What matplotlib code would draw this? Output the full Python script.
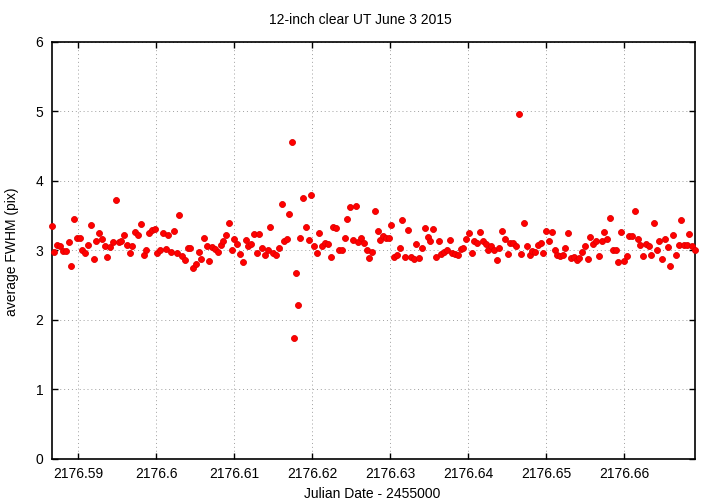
import matplotlib
matplotlib.use("Agg")
from matplotlib import pyplot as plt

plt.rcParams['font.family'] = ['Liberation Sans', 'DejaVu Sans']
plt.rcParams['font.size'] = 10

title = "12-inch clear UT June 3 2015"
x_label = "Julian Date - 2455000"
y_label = "average FWHM (pix)"

# julian date - 2455000
jd = [2176.58658, 2176.58692, 2176.58731, 2176.58769, 2176.58799, 2176.58842,
      2176.58876, 2176.58906, 2176.58944, 2176.58979, 2176.59017, 2176.59051,
      2176.59090, 2176.59124, 2176.59158, 2176.59197, 2176.59231, 2176.59265,
      2176.59303, 2176.59338, 2176.59372, 2176.59410, 2176.59444, 2176.59483,
      2176.59517, 2176.59551, 2176.59585, 2176.59624, 2176.59658, 2176.59692,
      2176.59731, 2176.59765, 2176.59799, 2176.59838, 2176.59872, 2176.59906,
      2176.59944, 2176.59979, 2176.60013, 2176.60047, 2176.60082, 2176.60120,
      2176.60154, 2176.60188, 2176.60223, 2176.60261, 2176.60295, 2176.60334,
      2176.60368, 2176.60402, 2176.60436, 2176.60474, 2176.60509, 2176.60543,
      2176.60577, 2176.60611, 2176.60645, 2176.60679, 2176.60718, 2176.60752,
      2176.60786, 2176.60825, 2176.60859, 2176.60893, 2176.60932, 2176.60966,
      2176.61000, 2176.61034, 2176.61073, 2176.61111, 2176.61145, 2176.61179,
      2176.61214, 2176.61252, 2176.61286, 2176.61321, 2176.61359, 2176.61393,
      2176.61427, 2176.61457, 2176.61500, 2176.61539, 2176.61573, 2176.61607,
      2176.61637, 2176.61671, 2176.61705, 2176.61744, 2176.61765, 2176.61791,
      2176.61821, 2176.61846, 2176.61880, 2176.61915, 2176.61953, 2176.61987,
      2176.62021, 2176.62056, 2176.62090, 2176.62128, 2176.62162, 2176.62197,
      2176.62235, 2176.62269, 2176.62308, 2176.62342, 2176.62376, 2176.62415,
      2176.62449, 2176.62483, 2176.62521, 2176.62556, 2176.62590, 2176.62628,
      2176.62662, 2176.62697, 2176.62731, 2176.62769, 2176.62803, 2176.62838,
      2176.62868, 2176.62906, 2176.62940, 2176.62979, 2176.63013, 2176.63047,
      2176.63085, 2176.63120, 2176.63154, 2176.63192, 2176.63231, 2176.63265,
      2176.63299, 2176.63333, 2176.63372, 2176.63406, 2176.63440, 2176.63479,
      2176.63513, 2176.63547, 2176.63585, 2176.63620, 2176.63654, 2176.63688,
      2176.63726, 2176.63761, 2176.63795, 2176.63833, 2176.63868, 2176.63902,
      2176.63936, 2176.63974, 2176.64009, 2176.64043, 2176.64077, 2176.64115,
      2176.64150, 2176.64188, 2176.64222, 2176.64256, 2176.64291, 2176.64325,
      2176.64363, 2176.64398, 2176.64432, 2176.64470, 2176.64505, 2176.64539,
      2176.64577, 2176.64612, 2176.64650, 2176.64680, 2176.64718, 2176.64752,
      2176.64787, 2176.64821, 2176.64859, 2176.64893, 2176.64928, 2176.64962,
      2176.65000, 2176.65034, 2176.65073, 2176.65107, 2176.65141, 2176.65175,
      2176.65209, 2176.65244, 2176.65282, 2176.65316, 2176.65355, 2176.65389,
      2176.65423, 2176.65457, 2176.65496, 2176.65530, 2176.65564, 2176.65603,
      2176.65637, 2176.65675, 2176.65710, 2176.65744, 2176.65778, 2176.65816,
      2176.65851, 2176.65889, 2176.65923, 2176.65957, 2176.65996, 2176.66030,
      2176.66064, 2176.66098, 2176.66137, 2176.66171, 2176.66205, 2176.66244,
      2176.66274, 2176.66312, 2176.66346, 2176.66380, 2176.66415, 2176.66449,
      2176.66483, 2176.66517, 2176.66556, 2176.66590, 2176.66624, 2176.66662,
      2176.66697, 2176.66726, 2176.66765, 2176.66799, 2176.66829, 2176.66868,
      2176.66902]

fwhm = [3.35, 2.97, 3.07, 3.06, 2.99, 2.99, 3.12, 2.78, 3.45, 3.18,
        3.18, 3.01, 2.96, 3.08, 3.36, 2.88, 3.14, 3.25, 3.17, 3.06,
        2.90, 3.05, 3.12, 3.73, 3.12, 3.13, 3.22, 3.08, 2.96, 3.06,
        3.26, 3.22, 3.38, 2.93, 3.01, 3.25, 3.29, 3.31, 2.96, 3.00,
        3.25, 3.02, 3.22, 2.97, 3.28, 2.96, 3.51, 2.92, 2.86, 3.03,
        3.03, 2.75, 2.81, 2.98, 2.88, 3.18, 3.06, 2.85, 3.05, 3.02,
        2.97, 3.08, 3.13, 3.22, 3.39, 3.00, 3.16, 3.09, 2.95, 2.83,
        3.15, 3.06, 3.09, 3.24, 2.96, 3.24, 3.04, 2.94, 3.01, 3.33,
        2.96, 2.93, 3.04, 3.66, 3.14, 3.16, 3.52, 4.56, 1.74, 2.67,
        2.21, 3.18, 3.75, 3.34, 3.15, 3.80, 3.06, 2.96, 3.25, 3.06,
        3.11, 3.09, 2.90, 3.34, 3.32, 3.00, 3.00, 3.18, 3.45, 3.62,
        3.15, 3.64, 3.12, 3.18, 3.11, 3.01, 2.89, 2.98, 3.57, 3.28,
        3.15, 3.20, 3.18, 3.18, 3.36, 2.90, 2.94, 3.03, 3.43, 2.90,
        3.30, 2.90, 2.88, 3.09, 2.89, 3.03, 3.32, 3.19, 3.14, 3.31,
        2.90, 3.14, 2.95, 2.97, 3.00, 3.15, 2.96, 2.95, 2.93, 3.02,
        3.04, 3.16, 3.25, 2.96, 3.13, 3.11, 3.27, 3.14, 3.09, 3.00,
        3.06, 3.01, 2.86, 3.04, 3.28, 3.16, 2.95, 3.11, 3.10, 3.06,
        4.96, 2.95, 3.40, 3.06, 2.93, 2.99, 2.98, 3.07, 3.11, 2.96,
        3.28, 3.14, 3.27, 3.01, 2.93, 2.92, 2.93, 3.04, 3.25, 2.89,
        2.91, 2.86, 2.89, 2.97, 3.06, 2.88, 3.19, 3.09, 3.13, 2.92,
        3.14, 3.26, 3.17, 3.46, 3.00, 3.01, 2.83, 3.26, 2.84, 2.92,
        3.20, 3.20, 3.56, 3.17, 3.07, 2.92, 3.09, 3.06, 2.93, 3.39,
        3.01, 3.13, 2.87, 3.16, 3.05, 2.77, 3.22, 2.93, 3.07, 3.44,
        3.07, 3.08, 3.24, 3.06, 3.01]

x_ticks = [2176.59, 2176.60, 2176.61, 2176.62, 2176.63, 2176.64, 2176.65, 2176.66]
x_tick_labels = ["2176.59", "2176.6", "2176.61", "2176.62", "2176.63",
                 "2176.64", "2176.65", "2176.66"]
y_ticks = [0, 1, 2, 3, 4, 5, 6]

fig = plt.figure(figsize=(7.2, 5.04), dpi=100)
ax = fig.add_axes([0.0718, 0.0899, 0.8931, 0.8268])

ax.plot(jd, fwhm, linestyle='none', marker='o', markersize=4.3,
        markerfacecolor='#ff0000', markeredgecolor='#e00000',
        markeredgewidth=0.6, zorder=5, clip_on=False)

ax.set_xlim(min(jd), max(jd))
ax.set_ylim(0, 6)
ax.set_xticks(x_ticks)
ax.set_xticklabels(x_tick_labels)
ax.set_yticks(y_ticks)

ax.grid(True, color='#a0a0a0', linestyle=(0, (1, 3)), linewidth=0.7)
ax.tick_params(direction='in', length=4.5, width=1, top=True, right=True,
               labelsize=10, pad=6)
for side in ax.spines.values():
    side.set_linewidth(1.2)

fig.text(0.5, 0.960, title, ha='center', va='center', fontsize=10)
fig.text(0.517, 0.020, x_label, ha='center', va='center', fontsize=10)
fig.text(0.0167, 0.50, y_label, ha='center', va='center', rotation=90, fontsize=10)

fig.savefig("out.png", dpi=100)
